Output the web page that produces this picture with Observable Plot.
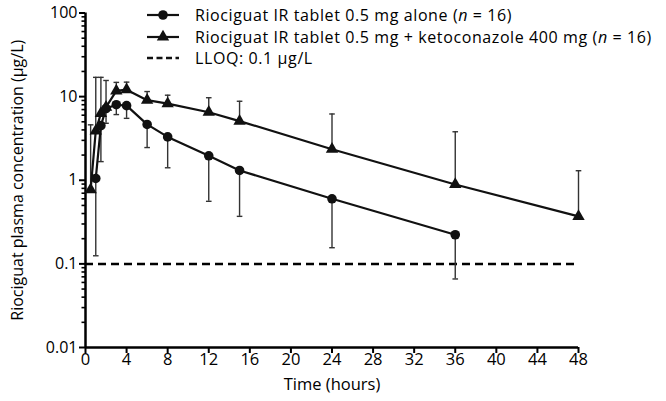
<!DOCTYPE html>
<html>
<head>
<meta charset="utf-8">
<script src="https://cdn.jsdelivr.net/npm/d3@7"></script>
<script src="https://cdn.jsdelivr.net/npm/@observablehq/plot@0.6"></script>
<style>
  html, body { margin: 0; padding: 0; background: #fff; }
  #wrap { position: relative; width: 666px; height: 401px; }
  #legend { position: absolute; left: 0; top: 0; }
</style>
</head>
<body>
<div id="wrap"></div>
<script>
// ---- Data ----
const timesAlone = [1, 1.5, 2, 3, 4, 6, 8, 12, 15, 24, 36];
const meanAlone  = [1.05, 4.5, 7.2, 8.0, 7.8, 4.65, 3.3, 1.96, 1.31, 0.60, 0.223];
const lowerAlone = [0.125, 1.67, 4.8, 6.1, 5.5, 2.46, 1.41, 0.56, 0.37, 0.156, 0.066];

const timesKeto = [0.5, 1, 1.5, 2, 3, 4, 6, 8, 12, 15, 24, 36, 48];
const meanKeto  = [0.77, 3.9, 6.3, 7.5, 11.7, 12.1, 9.06, 8.26, 6.5, 5.1, 2.35, 0.89, 0.37];
const upperKeto = [4.6, 17, 17, 15.6, 14.8, 14.9, 11.5, 10.4, 9.7, 8.8, 6.2, 3.8, 1.30];

const lloq = 0.1;

const xTicks = [0, 4, 8, 12, 16, 20, 24, 28, 32, 36, 40, 44, 48];
const yTicks = [0.01, 0.1, 1, 10, 100];
const yTickLabels = ["0.01", "0.1", "1", "10", "100"];

const legendLabels = [
  ["Riociguat IR tablet 0.5 mg alone (", "n", " = 16)"],
  ["Riociguat IR tablet 0.5 mg + ketoconazole 400 mg (", "n", " = 16)"],
  ["LLOQ: 0.1 μg/L"]
];

// ---- Tables ----
const alone = timesAlone.map((t, i) => ({t, mean: meanAlone[i], lo: lowerAlone[i]}));
const keto = timesKeto.map((t, i) => ({t, mean: meanKeto[i], hi: upperKeto[i]}));
const yMinor = [];
for (let k = 0; k < yTicks.length - 1; k++) for (let m = 2; m <= 9; m++) yMinor.push(yTicks[k] * m);
const yLabelOf = d => {
  const i = yTicks.findIndex(v => Math.abs(Math.log10(v) - Math.log10(d)) < 1e-6);
  return i >= 0 ? yTickLabels[i] : "";
};

const cap = { draw(ctx, size) { const w = Math.sqrt(size / Math.PI); ctx.moveTo(-w, 0); ctx.lineTo(w, 0); } };

const FONT = "Open Sans";
const FS = 17;
const barColor = "#333";

const chart = Plot.plot({
  width: 666, height: 401,
  marginLeft: 85, marginRight: 88, marginTop: 12.5, marginBottom: 54,
  style: { fontFamily: FONT, fontSize: FS + "px", color: "#000", background: "#fff" },
  x: { domain: [0, 48] },
  y: { type: "log", domain: [0.01, 100] },
  marks: [
    Plot.axisX({ ticks: xTicks, tickSize: 6, tickPadding: 0, strokeWidth: 2, tickFormat: d => String(d),
      label: "Time (hours)", labelAnchor: "center", labelArrow: "none", labelOffset: 42, fontSize: 16.5 }),
    Plot.axisY({ ticks: yTicks, tickSize: 6, tickPadding: 2, strokeWidth: 2,
      tickFormat: yLabelOf, fontSize: 16,
      label: "Riociguat plasma concentration (μg/L)", labelAnchor: "center", labelArrow: "none", labelOffset: 74 }),
    Plot.axisY({ ticks: yMinor, tickSize: 3.5, strokeWidth: 1.6, tickFormat: () => "", label: null }),
    Plot.ruleX([0], { y1: 0.01, y2: 100, strokeWidth: 2.5 }),
    Plot.ruleY([0.01], { x1: 0, x2: 48, strokeWidth: 2.5 }),
    Plot.ruleY([lloq], { x1: 0, x2: 48, strokeWidth: 2.5, strokeDasharray: "8,5" }),
    // error bars
    Plot.ruleX(keto, { x: "t", y1: "mean", y2: "hi", stroke: barColor, strokeWidth: 1.4 }),
    Plot.dot(keto, { x: "t", y: "hi", symbol: cap, r: 2.8, stroke: barColor, strokeWidth: 1.4 }),
    Plot.ruleX(alone, { x: "t", y1: "mean", y2: "lo", stroke: barColor, strokeWidth: 1.4 }),
    Plot.dot(alone, { x: "t", y: "lo", symbol: cap, r: 2.8, stroke: barColor, strokeWidth: 1.4 }),
    // series
    Plot.line(keto, { x: "t", y: "mean", stroke: "#111", strokeWidth: 2.2 }),
    Plot.line(alone, { x: "t", y: "mean", stroke: "#111", strokeWidth: 2.2 }),
    Plot.dot(keto, { x: "t", y: "mean", symbol: "triangle", r: 4.6, fill: "#111", stroke: "none" }),
    Plot.dot(alone, { x: "t", y: "mean", symbol: "circle", r: 4.8, fill: "#111", stroke: "none" })
  ]
});

const wrap = document.getElementById("wrap");
wrap.appendChild(chart);

// ---- Legend ----
const lg = d3.select(wrap).append("svg").attr("id", "legend").attr("width", 666).attr("height", 70)
  .style("font-family", FONT).style("font-size", "16px").style("letter-spacing", "0.6px");
const rows = [15, 37, 58];
const lx1 = 147, lx2 = 179, lmx = 163, tx = 195;
lg.append("line").attr("x1", lx1).attr("x2", lx2).attr("y1", rows[0]).attr("y2", rows[0]).attr("stroke", "#111").attr("stroke-width", 2.2);
lg.append("circle").attr("cx", lmx).attr("cy", rows[0]).attr("r", 4.8).attr("fill", "#111");
lg.append("line").attr("x1", lx1).attr("x2", lx2).attr("y1", rows[1]).attr("y2", rows[1]).attr("stroke", "#111").attr("stroke-width", 2.2);
lg.append("path").attr("transform", `translate(${lmx},${rows[1]})`).attr("d", d3.symbol(d3.symbolTriangle, 4.6 * 4.6 * Math.PI)()).attr("fill", "#111");
lg.append("line").attr("x1", lx1).attr("x2", lx2).attr("y1", rows[2]).attr("y2", rows[2]).attr("stroke", "#111").attr("stroke-width", 2.5).attr("stroke-dasharray", "6,3.5");
legendLabels.forEach((parts, i) => {
  const t = lg.append("text").attr("x", tx).attr("y", rows[i]).attr("dy", "0.36em").attr("fill", "#000");
  parts.forEach((p, j) => {
    const s = t.append("tspan").text(p);
    if (j === 1) s.style("font-style", "italic");
  });
});
</script>
</body>
</html>
